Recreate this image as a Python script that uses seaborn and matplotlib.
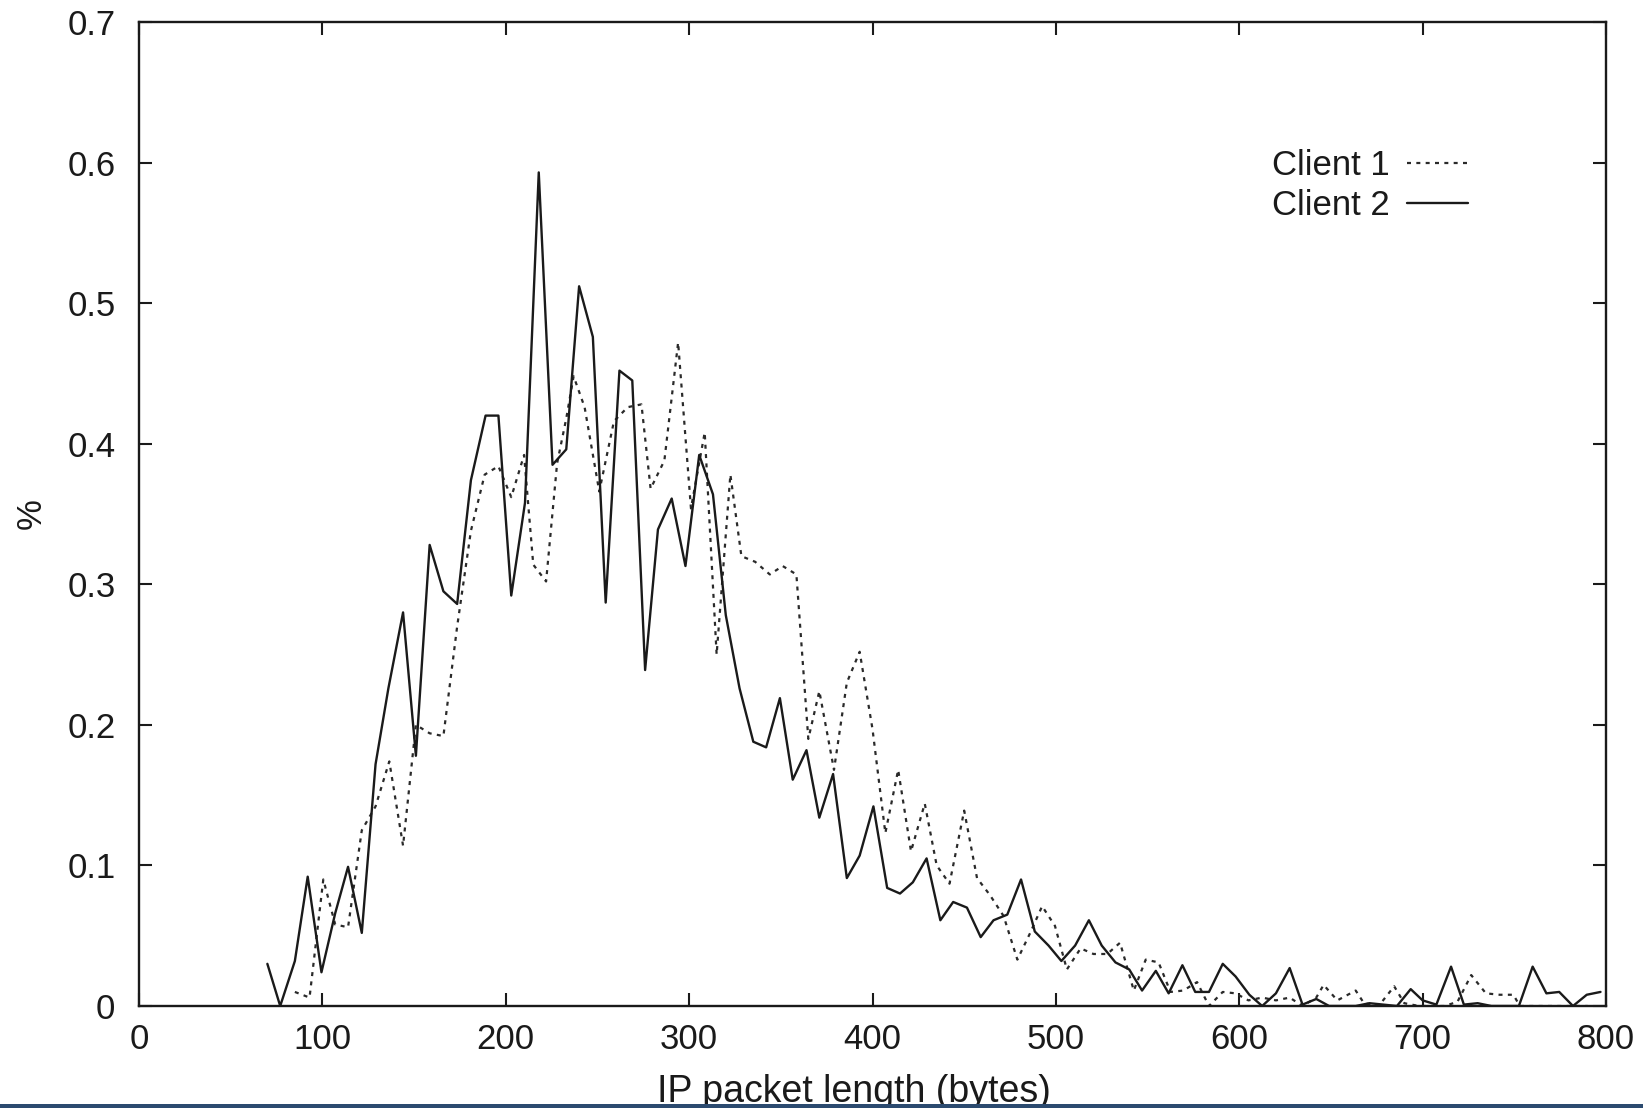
import matplotlib
matplotlib.use("Agg")
import matplotlib.pyplot as plt
import seaborn as sns
import pandas as pd
from matplotlib.patches import Rectangle

# ---------------- data ----------------
client1_x = [85, 93, 100.5, 107, 114, 121.5, 129, 136.5, 144, 151, 158.5, 166, 173.5, 181,
             188.5, 196, 203, 210, 215, 222, 228, 233, 237, 243, 251, 259, 266.5, 274, 279,
             286.5, 294, 301, 308.5, 315, 322.5, 328.5, 336, 344, 351, 358.5, 365, 371, 379,
             386, 393, 400, 407, 414, 421, 428.5, 435, 442, 450, 457, 464, 471.5, 479, 486,
             492.5, 499.5, 506, 513.5, 520.5, 528, 535, 542.5, 549, 556, 562.5, 569.5, 577,
             583.5, 591, 598, 605, 612.5, 620, 627.5, 634.5, 642, 646, 653.5, 663.5, 668, 676,
             684.5, 690, 698, 705, 712, 719, 726.5, 734.5, 742, 749.5, 753, 760, 775, 790]
client1_y = [0.010, 0.006, 0.090, 0.058, 0.056, 0.125, 0.142, 0.174, 0.114, 0.200, 0.194,
             0.192, 0.270, 0.338, 0.378, 0.384, 0.362, 0.392, 0.314, 0.302, 0.386, 0.418,
             0.448, 0.426, 0.366, 0.416, 0.426, 0.428, 0.368, 0.388, 0.472, 0.354, 0.408,
             0.250, 0.378, 0.320, 0.316, 0.307, 0.313, 0.307, 0.190, 0.224, 0.168, 0.230,
             0.252, 0.197, 0.123, 0.168, 0.110, 0.144, 0.100, 0.087, 0.139, 0.091, 0.079,
             0.064, 0.033, 0.052, 0.071, 0.057, 0.026, 0.041, 0.037, 0.037, 0.045, 0.011,
             0.033, 0.031, 0.010, 0.011, 0.017, 0.000, 0.010, 0.009, 0.004, 0.006, 0.004,
             0.006, 0.000, 0.006, 0.015, 0.004, 0.011, 0.002, 0.000, 0.014, 0.002, 0.000,
             0.000, 0.000, 0.003, 0.022, 0.009, 0.008, 0.008, 0.000, 0.000, 0.000, 0.000]

client2_x = [70, 77, 85, 92, 99.5, 107, 114, 121.5, 129, 136, 144, 151, 158.5, 166, 173.5,
             181, 189, 196, 203, 210.5, 218, 225.5, 233, 240, 247.5, 254.5, 262, 269, 276,
             283, 290.5, 298, 305.5, 313, 320, 327.5, 335, 342, 349.5, 356.5, 364, 371,
             378.5, 386, 393, 400.5, 408, 415, 422, 429.5, 437, 444, 451.5, 459, 466, 473.5,
             481, 488.5, 496, 503, 510.5, 518, 525, 532.5, 540, 547, 554.5, 561.5, 569, 576,
             583.5, 591, 598, 605.5, 612.5, 620, 627.5, 634.5, 642, 649, 656, 663.5, 671,
             678.5, 686, 693.5, 700, 707.5, 715.5, 722.5, 730, 737.5, 745, 752.5, 760,
             767.5, 774.5, 782, 789.5, 797]
client2_y = [0.030, 0.000, 0.032, 0.092, 0.024, 0.066, 0.099, 0.052, 0.172, 0.226, 0.280,
             0.178, 0.328, 0.295, 0.286, 0.374, 0.420, 0.420, 0.292, 0.358, 0.593, 0.385,
             0.396, 0.512, 0.476, 0.287, 0.452, 0.445, 0.239, 0.339, 0.361, 0.313, 0.392,
             0.364, 0.278, 0.226, 0.188, 0.184, 0.219, 0.161, 0.182, 0.134, 0.165, 0.091,
             0.107, 0.142, 0.084, 0.080, 0.088, 0.105, 0.061, 0.074, 0.070, 0.049, 0.061,
             0.065, 0.090, 0.053, 0.043, 0.032, 0.043, 0.061, 0.043, 0.031, 0.026, 0.011,
             0.025, 0.009, 0.029, 0.010, 0.010, 0.030, 0.021, 0.008, 0.000, 0.009, 0.027,
             0.001, 0.005, 0.000, 0.000, 0.000, 0.002, 0.001, 0.000, 0.012, 0.004, 0.001,
             0.028, 0.001, 0.002, 0.000, 0.000, 0.000, 0.028, 0.009, 0.010, 0.000, 0.008,
             0.010]

series_names = ["Client 1", "Client 2"]
x_ticks = [0, 100, 200, 300, 400, 500, 600, 700, 800]
y_ticks = [0, 0.1, 0.2, 0.3, 0.4, 0.5, 0.6, 0.7]
x_label = "IP packet length (bytes)"
y_label = "%"

# ---------------- style ----------------
sns.set_theme(style="ticks")
plt.rcParams["font.family"] = ["Liberation Sans", "DejaVu Sans"]

W, H = 1643, 1108
fig = plt.figure(figsize=(W / 100, H / 100), dpi=100)
fig.patch.set_facecolor("white")
ax = fig.add_axes([139 / W, 1 - 1006 / H, (1606 - 139) / W, (1006 - 22) / H])
ax.set_facecolor("white")

df1 = pd.DataFrame({"x": client1_x, "y": client1_y})
df2 = pd.DataFrame({"x": client2_x, "y": client2_y})

sns.lineplot(data=df1, x="x", y="y", ax=ax, color="#2a2a2a", lw=1.6,
             linestyle=(0, (1.8, 2.4)), label=series_names[0], errorbar=None)
sns.lineplot(data=df2, x="x", y="y", ax=ax, color="#1a1a1a", lw=1.7,
             label=series_names[1], errorbar=None)

ax.set_xlim(0, 800)
ax.set_ylim(0, 0.7)
ax.set_xticks(x_ticks)
ax.set_yticks(y_ticks)
ax.set_xticklabels([str(v) for v in x_ticks])
ax.set_yticklabels(["0"] + [f"{v:.1f}" for v in y_ticks[1:]])
ax.tick_params(axis="both", direction="in", length=9.5, width=1.5, color="#1a1a1a",
               labelsize=25, labelcolor="#1a1a1a", top=True, right=True)
ax.tick_params(axis="y", pad=17)
ax.tick_params(axis="x", pad=12)
for s in ax.spines.values():
    s.set_linewidth(1.7)
    s.set_color("#1a1a1a")
    s.set_visible(True)

ax.set_xlabel("")
ax.set_ylabel("")
fig.text(31 / W, 1 - 514 / H, y_label, rotation=90, fontsize=25, color="#1a1a1a",
         ha="center", va="center")
fig.text(854 / W, 1 - 1102 / H, x_label, fontsize=27, color="#1a1a1a",
         ha="center", va="baseline")

leg = ax.legend(loc="upper right", bbox_to_anchor=(1468 / W, 1 - 149 / H),
                bbox_transform=fig.transFigure, frameon=False, markerfirst=False,
                fontsize=25, handlelength=1.75, handletextpad=0.5, labelspacing=0.2,
                borderpad=0, borderaxespad=0)
for t in leg.get_texts():
    t.set_color("#1a1a1a")

fig.patches.append(Rectangle((0, 0), 1, 4 / H, transform=fig.transFigure,
                             facecolor="#2b4a6f", edgecolor="none", zorder=10))

fig.savefig("out.png", dpi=100, facecolor="white")
